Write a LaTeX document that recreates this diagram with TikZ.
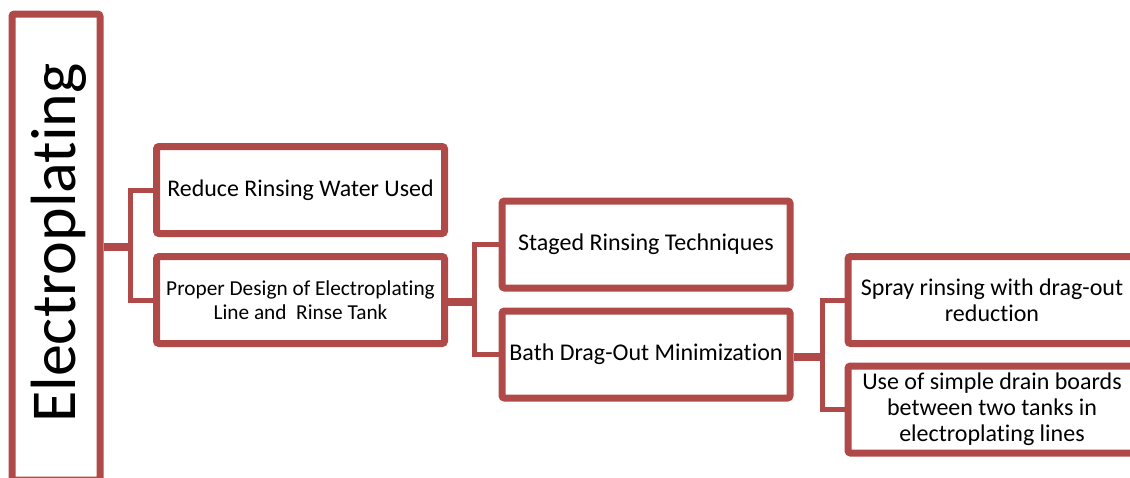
\documentclass[tikz,border=0pt]{standalone}
\usepackage{fontspec}
\setmainfont[Ligatures={NoCommon}]{Carlito}
\usetikzlibrary{shadows}
\definecolor{brick}{RGB}{176,74,73}
\tikzset{
  box/.style={draw=brick, line width=7pt, fill=white, rounded corners=2.5pt,
    minimum width=288pt, minimum height=87pt, align=center, inner sep=2pt,
    drop shadow={opacity=0.25, shadow xshift=1.5pt, shadow yshift=-2pt, fill=black!60}},
  stub/.style={draw=brick, line width=8pt},
  elbow/.style={draw=brick, line width=5pt},
}
\begin{document}
\begin{tikzpicture}[x=1pt, y=-1pt]
\useasboundingbox (0,0) rectangle (1130,477);
\clip (0,0) rectangle (1130,477);
% root
\node[box, minimum width=88pt, minimum height=466pt] (root) at (56,247) {};
\node[rotate=90, anchor=base, font=\fontsize{64}{70}\selectfont] (rootlabel) at (75,243) {Electroplating};
% level 1
\node[box, font=\fontsize{23.9}{27}\selectfont] (b1) at (300.5,190) {Reduce Rinsing Water Used};
\node[box, font=\fontsize{21.3}{24}\selectfont] (b2) at (300.5,300) {Proper Design of Electroplating\\Line and\ \ Rinse Tank};
% level 2
\node[box, font=\fontsize{24}{27}\selectfont] (b3) at (646,244.5) {Staged Rinsing Techniques};
\node[box, font=\fontsize{24}{27}\selectfont] (b4) at (646,354.5) {Bath Drag-Out Minimization};
% level 3
\node[box, font=\fontsize{24}{26}\selectfont] (b5) at (992,300) {Spray rinsing with drag-out\\reduction};
\node[box, font=\fontsize{24}{26}\selectfont] (b6) at (992,409.5) {Use of simple drain boards\\between two tanks in\\electroplating lines};
% connectors
\coordinate (j1) at (130,247);
\coordinate (j2) at (474,302);
\coordinate (j3) at (822,357);
\draw[stub] (root.east |- j1) -- (j1);
\draw[elbow, line join=miter] (b1.west) -| (j1) |- (b2.west);
\draw[stub] (b2.east |- j2) -- (j2);
\draw[elbow, line join=miter] (b3.west) -| (j2) |- (b4.west);
\draw[stub] (b4.east |- j3) -- (j3);
\draw[elbow, line join=miter] (b5.west) -| (j3) |- (b6.west);
\end{tikzpicture}
\end{document}
